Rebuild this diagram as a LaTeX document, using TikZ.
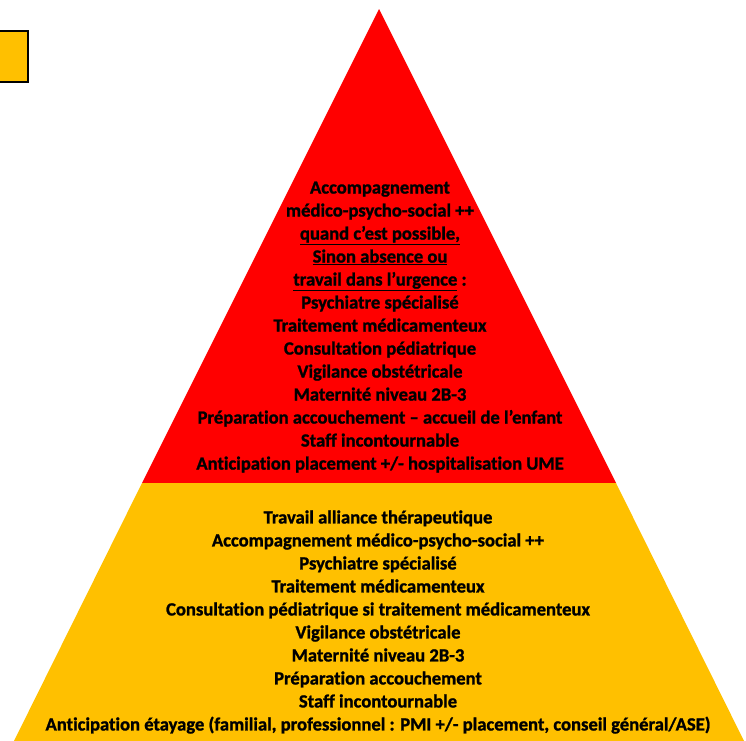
\documentclass[tikz,border=0pt]{standalone}
\usepackage{fontspec}
\setmainfont{Carlito}[Ligatures=NoCommon, BoldFeatures={FakeBold=1.2}]
\definecolor{toplevel}{RGB}{255,0,0}
\definecolor{baselevel}{RGB}{255,192,0}
\tikzset{
    leveltext/.style={align=center, inner sep=0pt, text=black,
        font=\bfseries\fontsize{18.6}{23}\selectfont}
}
\begin{document}
\begin{tikzpicture}[x=1pt,y=-1pt]
    \useasboundingbox (0,0) rectangle (746,740);
    \clip (0,0) rectangle (746,740);
    % pyramid
    \coordinate (apex) at (379,9);
    \coordinate (midL) at (142,483);
    \coordinate (midR) at (616,483);
    \coordinate (baseL) at (11,747);
    \coordinate (baseR) at (747,747);
    \fill[fill=toplevel] (apex) -- (midL) -- (midR) -- cycle;
    \fill[fill=baselevel] (midL) -- (baseL) -- (baseR) -- (midR) -- cycle;
    % legend square
    \draw[fill=baselevel, line width=2pt] (-25,31) rectangle (28,82);
    \node[leveltext] (toptxt) at (380,327) {Accompagnement\\
        médico-psycho-social ++\\
        \underline{quand c’est possible,}\\
        \underline{Sinon absence ou}\\
        \underline{travail dans l’urgence} :\\
        Psychiatre spécialisé\\
        Traitement médicamenteux\\
        Consultation pédiatrique\\
        Vigilance obstétricale\\
        Maternité niveau 2B-3\\
        Préparation accouchement -- accueil de l’enfant\\
        Staff incontournable\\
        Anticipation placement +/- hospitalisation UME};
    \node[leveltext] (basetxt) at (378,622) {Travail alliance thérapeutique\\
        Accompagnement médico-psycho-social ++\\
        Psychiatre spécialisé\\
        Traitement médicamenteux\\
        Consultation pédiatrique si traitement médicamenteux\\
        Vigilance obstétricale\\
        Maternité niveau 2B-3\\
        Préparation accouchement\\
        Staff incontournable\\
        Anticipation étayage (familial, professionnel : PMI +/- placement, conseil général/ASE)};
\end{tikzpicture}
\end{document}
